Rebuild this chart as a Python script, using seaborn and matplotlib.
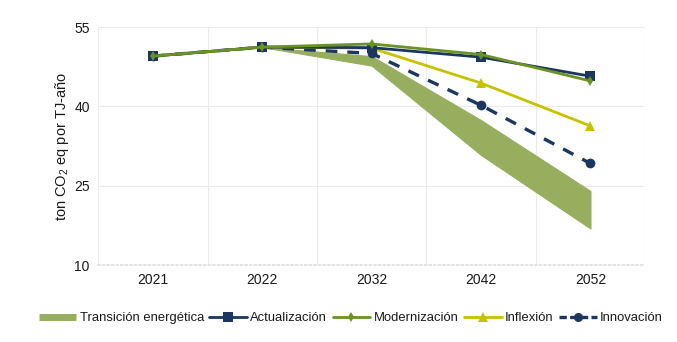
import numpy as np
import pandas as pd
import matplotlib
matplotlib.use("Agg")
import matplotlib.pyplot as plt
from matplotlib.lines import Line2D
import seaborn as sns

years = ["2021", "2022", "2032", "2042", "2052"]
transicion_low = [49.5, 51.2, 47.7, 30.8, 16.9]
transicion_high = [49.5, 51.2, 49.5, 37.4, 24.0]
actualizacion = [49.5, 51.2, 51.1, 49.3, 45.7]
modernizacion = [49.5, 51.2, 51.8, 49.8, 44.8]
inflexion = [49.5, 51.2, 51.0, 44.4, 36.3]
innovacion = [49.5, 51.2, 50.0, 40.2, 29.2]
yticks = [10, 25, 40, 55]

sns.set_theme(style="white")
plt.rcParams["font.family"] = ["Liberation Sans", "DejaVu Sans"]
plt.rcParams["mathtext.fontset"] = "custom"
plt.rcParams["mathtext.rm"] = "Liberation Sans"
plt.rcParams["mathtext.it"] = "Liberation Sans"

fig = plt.figure(figsize=(6.77, 3.42), dpi=100)
ax = fig.add_axes([0.145, 0.225, 0.808, 0.696])

pos = np.arange(len(years))
band_color = "#97AE5F"
navy = "#1B365F"
green = "#6B9224"
yellow = "#C6C200"

ax.fill_between(pos, transicion_low, transicion_high, color=band_color,
                edgecolor=band_color, linewidth=0.8, zorder=1)

df = pd.DataFrame({"x": pos, "Actualización": actualizacion,
                   "Modernización": modernizacion, "Inflexión": inflexion,
                   "Innovación": innovacion})

sns.lineplot(data=df, x="x", y="Innovación", ax=ax, color=navy, lw=2.4,
             marker="o", markersize=7, markeredgewidth=0, zorder=3)
ax.lines[-1].set_dashes((3.5, 3.0))
sns.lineplot(data=df, x="x", y="Inflexión", ax=ax, color=yellow, lw=2.0,
             marker="^", markersize=7, markeredgewidth=0, zorder=4)
sns.lineplot(data=df, x="x", y="Actualización", ax=ax, color=navy, lw=2.0,
             marker="s", markersize=6.5, markeredgewidth=0, zorder=5)
sns.lineplot(data=df, x="x", y="Modernización", ax=ax, color=green, lw=2.0,
             marker="d", markersize=5.5, markeredgewidth=0, zorder=6)

ax.set_xlim(-0.5, len(years) - 0.5)
ax.set_ylim(10, 55)
ax.set_yticks(yticks)
ax.set_xticks(pos)
ax.set_xticklabels(years)
ax.set_xticks(np.arange(-0.5, len(years), 1.0), minor=True)
ax.grid(False)
ax.grid(True, which="minor", axis="x", color="#EBEBEB", lw=0.8)
ax.grid(True, which="major", axis="y", color="#EBEBEB", lw=0.8)
ax.tick_params(axis="both", which="both", length=0, labelsize=10,
               colors="#1A1A1A", pad=6)
for side in ["top", "right", "left"]:
    ax.spines[side].set_visible(False)
ax.spines["bottom"].set_color("#E0E0E0")
ax.spines["bottom"].set_linestyle(":")
ax.set_xlabel("")
ax.set_ylabel("ton CO$_2$ eq por TJ-año", fontsize=10.5, color="#1A1A1A",
              labelpad=2)

handles = [
    Line2D([], [], color=band_color, lw=5, solid_capstyle="butt"),
    Line2D([], [], color=navy, lw=2.0, marker="s", markersize=6.5, markeredgewidth=0),
    Line2D([], [], color=green, lw=2.0, marker="d", markersize=5, markeredgewidth=0),
    Line2D([], [], color=yellow, lw=2.0, marker="^", markersize=6.5, markeredgewidth=0),
    Line2D([], [], color=navy, lw=2.4, marker="o", markersize=6.5, markeredgewidth=0,
           dashes=(2.2, 1.0)),
]
labels = ["Transición energética", "Actualización", "Modernización",
          "Inflexión", "Innovación"]
fig.legend(handles, labels, loc="center", bbox_to_anchor=(0.518, 0.07),
           ncol=5, frameon=False, fontsize=9.4, handlelength=2.9,
           handletextpad=0.25, columnspacing=0.4, labelcolor="#1A1A1A")

fig.savefig("out.png", dpi=100)
